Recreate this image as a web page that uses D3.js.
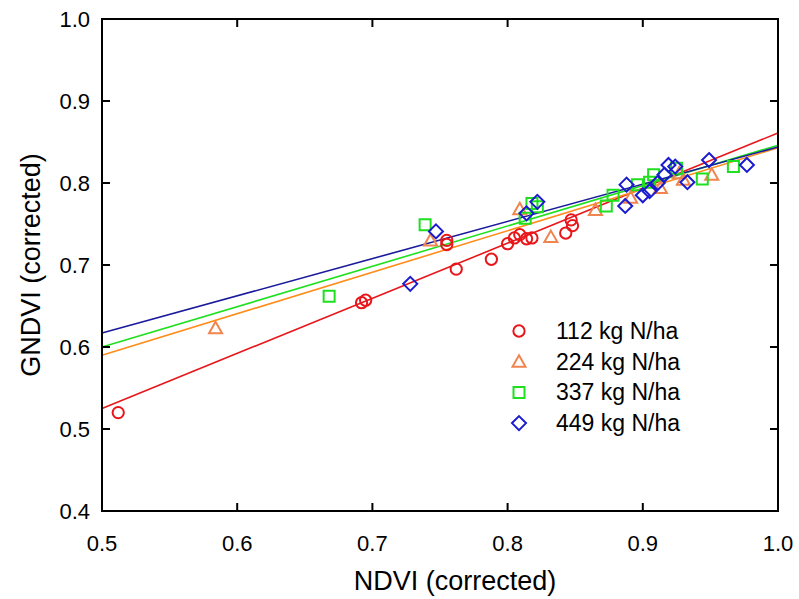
<!DOCTYPE html>
<html><head><meta charset="utf-8">
<script src="https://cdn.jsdelivr.net/npm/d3@7"></script>
<style>body{margin:0;background:#fff}svg{display:block}text{font-family:"Liberation Sans",Arial,sans-serif}</style>
</head><body><svg id="c" width="799" height="599"></svg>
<script>
const seriesNames = ["112 kg N/ha","224 kg N/ha","337 kg N/ha","449 kg N/ha"];
const xTicks = [0.5,0.6,0.7,0.8,0.9,1.0];
const yTicks = [0.4,0.5,0.6,0.7,0.8,0.9,1.0];
const n112 = [[0.512,0.520],[0.692,0.654],[0.695,0.657],[0.755,0.730],[0.755,0.725],[0.762,0.695],[0.788,0.707],[0.800,0.726],[0.805,0.733],[0.809,0.737],[0.814,0.732],[0.818,0.733],[0.843,0.739],[0.847,0.755],[0.848,0.748]];
const n224 = [[0.584,0.623],[0.743,0.730],[0.809,0.768],[0.832,0.734],[0.865,0.767],[0.891,0.782],[0.913,0.794],[0.927,0.812],[0.930,0.804],[0.951,0.810]];
const n337 = [[0.668,0.662],[0.739,0.749],[0.813,0.757],[0.818,0.775],[0.822,0.771],[0.873,0.772],[0.878,0.785],[0.896,0.798],[0.905,0.801],[0.908,0.810],[0.925,0.818],[0.944,0.805],[0.967,0.820]];
const n449 = [[0.728,0.677],[0.747,0.741],[0.814,0.763],[0.822,0.777],[0.887,0.772],[0.888,0.798],[0.900,0.785],[0.905,0.790],[0.911,0.800],[0.916,0.810],[0.919,0.822],[0.924,0.820],[0.933,0.801],[0.949,0.828],[0.977,0.822]];
// fitted lines: [y at x=0.5, y at x=1.0]
const fit112 = [0.525,0.861];
const fit224 = [0.590,0.843];
const fit337 = [0.600,0.846];
const fit449 = [0.617,0.844];

const svg = d3.select("#c");
const L=102,R=778,T=19,B=511;
const x = d3.scaleLinear().domain([0.5,1.0]).range([L,R]);
const y = d3.scaleLinear().domain([0.4,1.0]).range([B,T]);

const series = [
 {name:seriesNames[0],data:n112,fit:fit112,mc:"#e8161b",lc:"#e8161b",kind:"circle"},
 {name:seriesNames[1],data:n224,fit:fit224,mc:"#f08550",lc:"#ff8c1a",kind:"triangle"},
 {name:seriesNames[2],data:n337,fit:fit337,mc:"#1ee01e",lc:"#1ee01e",kind:"square"},
 {name:seriesNames[3],data:n449,fit:fit449,mc:"#1a1ad0",lc:"#1a1a9c",kind:"diamond"}
];

const lineG = svg.append("g");
series.forEach(s=>{
  lineG.append("line").attr("x1",x(0.5)).attr("y1",y(s.fit[0])).attr("x2",x(1.0)).attr("y2",y(s.fit[1]))
   .attr("stroke",s.lc).attr("stroke-width",1.6);
});

function sym(s){
  if(s.kind==="diamond") return "M0,-7L7,0L0,7L-7,0Z";
  if(s.kind==="triangle") return "M0,-6.5L6.5,5L-6.5,5Z";
  if(s.kind==="square") return "M-5.5,-5.5H5.5V5.5H-5.5Z";
  return d3.symbol().type(d3.symbolCircle).size(100)();
}
series.forEach(s=>{
  svg.append("g").selectAll("path").data(s.data).join("path")
   .attr("d",sym(s)).attr("transform",d=>`translate(${x(d[0])},${y(d[1])})`)
   .attr("fill","none").attr("stroke",s.mc).attr("stroke-width",2);
});

const ax = svg.append("g");
ax.append("rect").attr("x",L).attr("y",T).attr("width",R-L).attr("height",B-T)
  .attr("fill","none").attr("stroke","#000").attr("stroke-width",2);
const tl=8;
xTicks.forEach(t=>{
  ax.append("line").attr("x1",x(t)).attr("x2",x(t)).attr("y1",B).attr("y2",B-tl).attr("stroke","#000").attr("stroke-width",2);
  ax.append("line").attr("x1",x(t)).attr("x2",x(t)).attr("y1",T).attr("y2",T+tl).attr("stroke","#000").attr("stroke-width",2);
  ax.append("text").attr("x",x(t)).attr("y",B+40).attr("text-anchor","middle").attr("font-size",22).text(d3.format(".1f")(t));
});
yTicks.forEach(t=>{
  ax.append("line").attr("x1",L).attr("x2",L+tl).attr("y1",y(t)).attr("y2",y(t)).attr("stroke","#000").attr("stroke-width",2);
  ax.append("line").attr("x1",R).attr("x2",R-tl).attr("y1",y(t)).attr("y2",y(t)).attr("stroke","#000").attr("stroke-width",2);
  ax.append("text").attr("x",L-12).attr("y",y(t)+8).attr("text-anchor","end").attr("font-size",22).text(d3.format(".1f")(t));
});
svg.append("text").attr("x",455).attr("y",590).attr("text-anchor","middle").attr("font-size",27).text("NDVI (corrected)");
svg.append("text").attr("transform",`translate(40,${(T+B)/2}) rotate(-90)`).attr("text-anchor","middle").attr("font-size",27).text("GNDVI (corrected)");

const lg = svg.append("g");
series.forEach((s,i)=>{
  const yy = 331 + i*30.7;
  lg.append("path").attr("d",sym(s)).attr("transform",`translate(519,${yy})`).attr("fill","none").attr("stroke",s.mc).attr("stroke-width",2);
  lg.append("text").attr("x",556).attr("y",yy+8).attr("font-size",23).text(s.name);
});
</script></body></html>
